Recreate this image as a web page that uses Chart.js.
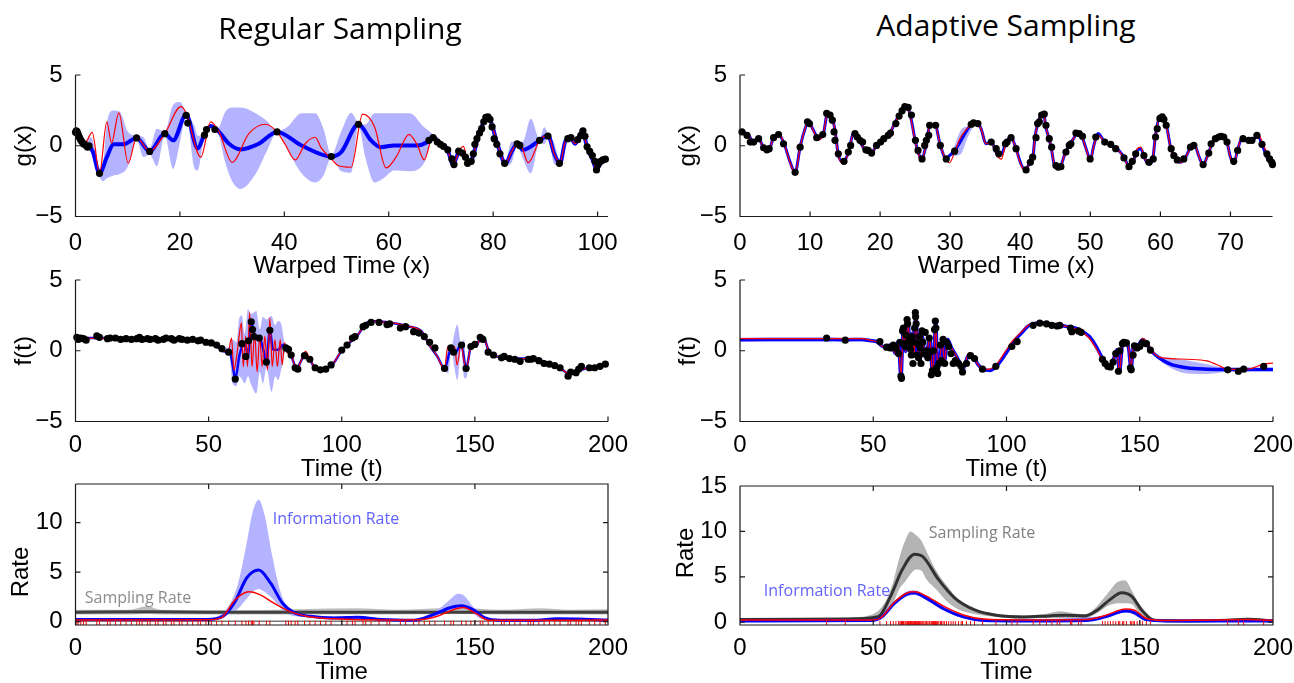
<!DOCTYPE html>
<html><head><meta charset="utf-8">
<script src="https://cdn.jsdelivr.net/npm/chart.js@4.4.1/dist/chart.umd.min.js"></script>
<style>
html,body{margin:0;padding:0;background:#fff;}
body{width:1294px;height:683px;position:relative;overflow:hidden;}
canvas{position:absolute;}
.ttl{position:absolute;font-family:'Open Sans',sans-serif;font-size:30px;color:#000;transform:translate(-50%,-50%);white-space:nowrap;line-height:1;}
.ann{position:absolute;font-family:'Open Sans',sans-serif;font-size:16px;transform:translate(-50%,-50%);white-space:nowrap;line-height:1;}
</style></head>
<body>
<canvas id="cA"></canvas><canvas id="cB"></canvas>
<canvas id="cC"></canvas><canvas id="cD"></canvas>
<canvas id="cE"></canvas><canvas id="cF"></canvas>
<div class="ttl" style="left:340px;top:28px">Regular Sampling</div>
<div class="ttl" style="left:1006px;top:25px">Adaptive Sampling</div>
<div class="ann" style="left:336px;top:518px;color:rgb(96,96,255)">Information Rate</div>
<div class="ann" style="left:138px;top:597px;color:rgb(140,140,140)">Sampling Rate</div>
<div class="ann" style="left:982px;top:532px;color:rgb(128,128,128)">Sampling Rate</div>
<div class="ann" style="left:827px;top:590px;color:rgb(100,100,255)">Information Rate</div>
<script>
// ---------------- DATA ----------------
// Tick labels
const ticksG_reg = [0,20,40,60,80,100];
const ticksG_ada = [0,10,20,30,40,50,60,70];
const ticksT = [0,50,100,150,200];
const ticksGF_y = [-5,0,5];
const ticksRate_reg = [0,5,10];
const ticksRate_ada = [0,5,10,15];

// Panel A: regular sampling, g(x)
const regG_mean = [[0,0.98],[0.6,0.7],[1.6,0.14],[2.5,0.02],[3.3,-0.4],[4.6,-1.95],[6.0,-0.81],[7.3,0.1],[9.2,0.1],[11.7,0.55],[14.2,-0.4],[17.1,0.85],[18.7,0.38],[21.2,2.2],[23.4,-0.2],[24.7,0.8],[25.9,1.4],[27.2,1.1],[29.4,0.14],[31.6,-0.26],[35.1,0.14],[38.6,0.98],[43.3,0.02],[49.0,-0.76],[50.9,-0.45],[54.2,1.52],[56.6,0.38],[58.5,-0.1],[61.0,0.02],[65.5,0.02],[67.4,0.26],[68.5,0.62],[69.9,0.14],[71.2,-0.21],[72.3,-1.3],[73.6,-0.38],[74.5,-0.69],[75.3,-1.24],[76.2,-0.69],[77.2,0.86],[78.1,1.57],[78.9,2.05],[79.7,1.57],[80.7,0.26],[82.4,-1.24],[83.5,-0.45],[84.6,0.14],[85.7,-0.29],[88.9,0.38],[90.5,0.74],[91.7,-0.57],[92.8,-1.24],[93.9,0.38],[94.9,0.5],[95.7,0.14],[97.1,1.05],[98.0,-0.1],[99.0,-0.93],[99.8,-1.64],[100.9,-1.05],[101.6,-0.95]];
const regG_true = [[0,0.98],[1.6,0.05],[3.2,0.95],[4.6,-1.95],[6.0,1.69],[6.9,0.2],[8.3,2.33],[10.1,-1.24],[11.7,0.57],[14.2,-0.38],[17.1,0.86],[20.2,2.76],[21.2,2.29],[24.0,-0.81],[25.9,1.69],[27.5,0.98],[30.0,-1.17],[33.2,0.86],[36.4,1.52],[38.6,0.98],[40.2,0.07],[42.1,-1.0],[44.0,0.14],[45.9,0.6],[47.1,-0.17],[49.0,-0.93],[50.3,-1.4],[52.8,-1.52],[55.0,2.24],[57.3,1.33],[59.5,-1.57],[61.4,-0.81],[63.9,0.81],[65.5,0.02],[66.8,-1.0],[68.5,0.74],[69.9,0.14],[71.2,-0.21],[72.3,-1.3],[73.6,-0.3],[74.3,-0.05],[75.3,-1.24],[76.2,-0.69],[77.2,0.86],[78.1,1.57],[78.9,2.05],[79.7,1.57],[80.7,0.26],[82.4,-1.24],[83.5,-0.45],[84.6,0.14],[85.6,-0.2],[86.7,-1.2],[88.9,0.38],[90.5,0.74],[91.7,-0.57],[92.8,-1.24],[93.9,0.38],[94.9,0.5],[95.7,0.14],[97.1,1.05],[98.0,-0.1],[99.0,-0.93],[99.8,-1.64],[100.9,-1.05],[101.6,-0.95]];
const regG_band = [[0,1.05,0.9],[1.5,0.3,0.0],[3,0.6,-0.5],[4.6,-1.6,-2.2],[5.3,-1.2,-2.5],[6.0,1.6,-2.3],[7.3,2.5,-2.1],[8.5,2.4,-2.0],[10,1.0,-1.5],[11.7,0.7,0.4],[13,0.6,-0.8],[14.2,-0.2,-0.6],[15.6,1.2,-1.45],[17.1,1.0,0.7],[18.7,2.9,-1.64],[20,3.1,0.2],[21.2,2.3,2.1],[22.8,1.4,-1.6],[23.4,0.7,-1.75],[24.7,0.9,0.7],[25.9,1.5,1.3],[27.2,1.2,1.0],[28.7,2.4,-1.2],[30,2.7,-2.5],[31.6,2.7,-3.05],[34.5,2.3,-2.0],[36.5,1.8,-0.5],[38.6,1.05,0.9],[40.5,1.3,-0.2],[43.3,2.3,-1.95],[45.9,2.3,-2.6],[47.5,1.2,-2.1],[49,-0.65,-0.85],[50.9,1.0,-1.8],[52.8,2.33,-1.9],[54.2,1.6,1.4],[55.5,1.5,-0.8],[57.3,2.3,-2.6],[59,2.3,-2.3],[61,2.3,-1.75],[64,2.3,-1.8],[66.8,1.3,-1.2],[68.5,0.8,0.5],[69.9,0.3,0.0],[71.2,-0.05,-0.35],[72.3,-1.15,-1.45],[73.6,-0.25,-0.5],[74.5,-0.55,-0.85],[75.3,-1.1,-1.4],[76.2,-0.55,-0.85],[77.2,1.0,0.7],[78.1,1.7,1.45],[78.9,2.2,1.9],[79.7,1.7,1.45],[80.7,0.4,0.1],[82.4,-1.1,-1.4],[83.5,0.3,-1.2],[84.6,0.3,0.0],[85.7,0.3,-0.9],[87.2,1.9,-1.95],[88.9,0.5,0.25],[89.8,1.3,0.1],[90.5,0.85,0.6],[91.7,0.2,-1.3],[92.8,-1.1,-1.4],[93.9,0.5,0.25],[94.9,0.65,0.35],[95.7,0.3,0.0],[97.1,1.2,0.9],[98.0,0.05,-0.25],[99.0,-0.8,-1.1],[99.8,-1.5,-1.8],[100.9,-0.9,-1.2],[101.6,-0.8,-1.1]];
const regG_pts = [[0,0.95],[0.15,1.05],[0.3,1.0],[0.45,0.85],[0.6,0.7],[0.8,0.55],[1.0,0.4],[1.2,0.3],[1.5,0.15],[1.9,0.05],[2.3,-0.1],[2.6,0.0],[4.6,-1.95],[11.7,0.55],[14.2,-0.4],[17.1,0.85],[21.2,2.15],[21.5,1.6],[24.7,0.75],[25.1,1.15],[26.7,1.15],[38.6,0.98],[49,-0.76],[54.2,1.52],[67.7,0.38],[68.5,0.57],[69.3,0.26],[69.9,0.1],[70.5,-0.05],[71.3,-0.29],[72.1,-0.93],[72.5,-1.33],[73.4,-0.38],[74.1,-0.52],[74.7,-0.81],[75.1,-1.24],[75.8,-1.1],[76.2,-0.57],[76.5,0.1],[76.9,0.5],[77.4,0.9],[77.8,1.21],[78.2,1.69],[78.6,2.0],[79.0,2.05],[79.4,1.86],[79.8,1.33],[80.2,0.5],[80.7,0.1],[81.3,-0.57],[82.2,-1.24],[84.6,0.14],[85.1,0.02],[88.9,0.38],[90.5,0.69],[92.7,-1.24],[94.3,0.5],[94.9,0.57],[96.2,0.43],[96.8,0.74],[97.2,1.05],[97.6,0.67],[98.0,-0.07],[98.5,-0.4],[99.0,-0.69],[99.5,-1.1],[99.8,-1.71],[100.1,-1.33],[100.6,-1.1],[101,-1.0],[101.5,-0.95]];

// Panel B: adaptive sampling, g(x)
const adaG_mean = [[0,0.98],[0.28,0.98],[1.23,0.74],[1.95,0.26],[2.65,0.5],[3.37,-0.14],[4.08,-0.29],[4.8,0.57],[5.5,0.79],[6.3,0.14],[7.16,-1.17],[7.87,-1.88],[8.58,-0.1],[9.15,0.98],[9.77,1.69],[10.48,1.1],[11.2,0.5],[11.9,0.86],[12.5,2.29],[13.1,2.05],[13.6,0.98],[14.0,-0.57],[14.7,-1.17],[15.5,-0.45],[16.2,0.86],[16.9,0.5],[17.8,-0.29],[18.7,-0.52],[19.5,0.02],[20.4,0.38],[21.4,0.9],[22.3,1.81],[23.1,2.48],[23.7,2.81],[24.3,2.17],[25.0,0.38],[25.5,-0.57],[25.9,-0.93],[26.6,0.14],[27.1,1.45],[27.8,1.52],[28.6,0.02],[29.4,-0.93],[29.9,-0.69],[30.6,-0.38],[33.0,1.52],[33.6,1.69],[34.4,1.21],[35.1,0.14],[35.9,0.26],[36.7,-0.57],[37.3,-0.62],[37.97,0.26],[38.7,0.57],[39.4,-0.21],[40.1,-1.29],[40.7,-1.71],[41.4,-1.17],[41.8,-0.81],[42.1,0.62],[42.5,1.57],[43.1,2.24],[43.4,2.17],[43.6,1.45],[44.1,0.5],[44.4,-0.1],[44.9,-1.4],[45.4,-1.52],[45.8,-1.4],[46.4,-0.52],[47.0,0.02],[47.6,0.5],[48.2,0.9],[48.7,0.74],[49.4,-0.21],[50.0,-0.98],[50.5,0.02],[51.1,0.86],[51.9,0.38],[52.9,0.02],[53.8,-0.21],[54.8,-0.81],[55.5,-1.4],[56.2,-0.98],[56.7,-0.33],[57.2,-0.21],[57.8,-0.93],[58.4,-1.29],[58.9,-0.98],[59.3,0.74],[59.9,1.93],[60.4,1.93],[60.9,1.33],[61.5,-0.21],[62.2,-0.93],[62.9,-1.17],[63.6,-0.81],[64.4,-0.05],[64.9,0.02],[65.5,-0.76],[66.1,-1.33],[66.9,-0.45],[67.5,0.26],[68.3,0.62],[68.9,0.74],[69.5,0.26],[70.0,-0.81],[70.5,-1.24],[71.0,-0.33],[71.6,0.5],[72.6,0.33],[73.3,0.43],[73.8,0.79],[74.5,0.1],[75.2,-0.81],[75.9,-1.24]];
const adaG_true = [[0,0.95],[0.28,0.98],[1.23,0.72],[1.95,0.24],[2.65,0.5],[3.37,-0.16],[4.08,-0.3],[4.8,0.6],[5.5,0.88],[6.3,0.14],[7.16,-1.2],[7.87,-1.98],[8.58,-0.1],[9.15,1.0],[9.77,1.72],[10.48,1.05],[11.2,0.4],[11.9,0.86],[12.5,2.3],[13.1,2.05],[13.6,0.98],[14.0,-0.6],[14.7,-1.25],[15.5,-0.45],[16.2,0.9],[16.9,0.5],[17.8,-0.3],[18.7,-0.55],[19.5,0.02],[20.4,0.4],[21.4,0.95],[22.3,1.81],[23.1,2.5],[23.7,2.8],[24.3,2.1],[25.0,0.3],[25.5,-0.65],[25.9,-1.05],[26.6,0.14],[27.1,1.45],[27.8,1.52],[28.6,0.0],[29.4,-0.95],[29.9,-1.2],[30.6,-0.5],[31.3,0.4],[32.2,1.1],[33.0,1.45],[33.6,1.65],[34.4,1.21],[35.1,0.14],[35.9,0.2],[36.7,-0.7],[37.3,-0.95],[37.97,0.2],[38.7,0.57],[39.4,-0.25],[40.1,-1.35],[40.7,-1.8],[41.4,-1.17],[41.8,-0.81],[42.1,0.62],[42.5,1.6],[43.1,2.3],[43.4,2.2],[43.6,1.45],[44.1,0.5],[44.4,-0.1],[44.9,-1.4],[45.4,-1.6],[45.8,-1.4],[46.4,-0.52],[47.0,0.02],[47.6,0.5],[48.2,0.95],[48.7,0.74],[49.4,-0.25],[50.0,-1.05],[50.5,0.0],[51.1,0.75],[51.9,0.38],[52.9,0.0],[53.8,-0.21],[54.8,-0.85],[55.5,-1.45],[56.2,-0.98],[56.7,-0.2],[57.2,-0.1],[57.8,-0.93],[58.4,-1.32],[58.9,-0.98],[59.3,0.74],[59.9,1.95],[60.4,1.93],[60.9,1.3],[61.5,-0.25],[62.2,-1.0],[62.9,-1.2],[63.6,-0.81],[64.4,-0.05],[64.9,0.1],[65.5,-0.76],[66.1,-1.4],[66.9,-0.45],[67.5,0.26],[68.3,0.62],[68.9,0.74],[69.5,0.26],[70.0,-0.85],[70.5,-1.3],[71.0,-0.33],[71.6,0.5],[72.6,0.33],[73.3,0.43],[73.8,0.95],[74.5,0.3],[75.2,-0.5],[75.9,-0.95]];
const adaG_band1 = [[29.9,-0.6,-0.8],[30.6,0.0,-0.7],[31.5,1.1,-0.6],[32.5,1.4,0.6],[33.6,1.75,1.6]];
const adaG_band2 = [[74.5,0.2,0.0],[75.2,-0.6,-1.1],[75.9,-1.0,-1.5]];
const adaG_pts = [[0.28,0.98],[1.0,0.74],[1.47,0.26],[1.94,0.26],[2.66,0.5],[3.37,-0.14],[3.84,-0.29],[4.17,-0.21],[4.79,0.57],[5.5,0.79],[6.21,0.14],[7.87,-1.88],[8.58,-0.1],[9.63,1.69],[9.91,1.57],[10.95,0.57],[11.81,0.79],[12.37,2.29],[12.85,2.17],[13.18,1.81],[13.42,0.98],[13.56,0.38],[14.03,-0.57],[14.84,-1.1],[15.46,-0.45],[15.79,0.02],[16.41,0.86],[16.74,0.62],[17.12,0.38],[17.5,0.26],[17.97,-0.29],[18.3,-0.33],[18.78,-0.52],[19.49,0.02],[20.06,0.26],[20.53,0.5],[21.15,0.74],[21.48,0.9],[22.24,1.57],[22.71,2.1],[23.14,2.48],[23.52,2.76],[24.0,2.71],[24.47,2.17],[25.04,0.38],[25.41,-0.33],[25.98,-0.93],[26.36,0.02],[26.6,0.38],[26.93,0.74],[27.07,1.45],[27.92,1.45],[28.59,0.02],[29.44,-0.93],[30.63,-0.38],[33.0,1.52],[33.33,1.62],[33.95,1.57],[35.85,0.26],[36.56,-0.21],[36.94,-0.57],[37.88,0.14],[38.12,0.26],[38.69,0.57],[39.4,-0.21],[40.83,-1.71],[41.44,-1.17],[41.77,-0.81],[42.25,0.57],[42.48,1.57],[42.72,1.69],[43.05,2.17],[43.43,2.24],[43.67,1.45],[44.14,0.5],[44.48,-0.1],[45.09,-1.4],[45.42,-1.52],[45.8,-1.48],[46.52,-0.45],[46.99,0.02],[47.23,0.14],[47.94,0.9],[48.41,0.86],[48.88,0.67],[49.97,-0.93],[50.78,0.62],[52.06,0.26],[52.91,0.1],[53.62,-0.21],[54.8,-0.86],[55.52,-1.48],[55.99,-1.1],[56.47,-0.57],[57.65,-0.69],[58.36,-1.17],[58.98,-0.93],[59.31,0.62],[59.55,1.21],[59.93,1.93],[60.26,2.05],[60.5,1.86],[60.83,1.45],[61.54,-0.21],[61.92,-0.69],[62.4,-1.0],[63.34,-0.93],[64.29,-0.1],[64.77,0.02],[66.1,-1.33],[66.9,-0.52],[67.24,0.14],[67.85,0.5],[68.33,0.62],[68.66,0.67],[69.04,0.62],[69.51,0.26],[70.46,-1.1],[71.03,-0.33],[71.79,0.5],[72.6,0.38],[73.07,0.38],[73.78,0.74],[74.5,0.1],[75.2,-0.57],[75.58,-0.93],[75.9,-1.17],[76.0,-1.33]];

// Panel C: regular sampling, f(t)
const regF_mean = [[0,0.9],[10,0.9],[20,0.85],[30,0.82],[40,0.79],[47.2,0.74],[52.2,0.43],[56,-0.05],[57.9,-0.05],[59.1,-1.1],[60,-2.0],[61.6,-0.29],[63.5,0.55],[64.8,-0.3],[66,2.05],[66.7,1.5],[67.3,1.1],[69.2,0.9],[70.4,0.19],[71.7,-0.76],[73,1.45],[74.2,0.07],[76.1,0.07],[78,0.43],[79.3,0.31],[80.5,-0.05],[81.8,-0.76],[83,-1.31],[84.9,-0.64],[86.4,-0.29],[88.1,-0.64],[90,-1.24],[92.5,-1.36],[95,-1.17],[96.9,-0.88],[100,0.02],[102.5,0.5],[105.7,1.02],[108.8,1.86],[111.3,2.1],[115,2.05],[119.5,1.95],[125.5,1.7],[129.9,1.38],[132.9,0.4],[135.9,-0.41],[138.6,-1.24],[141.2,0.19],[142.6,-0.12],[144.9,0.43],[146.7,-1.24],[148.6,0.31],[150.8,0.43],[152.3,1.02],[153.5,0.9],[155.3,-0.05],[159.8,-0.45],[165.7,-0.55],[171.7,-0.55],[177.7,-0.88],[182.1,-1.24],[185.1,-1.6],[189.6,-1.36],[194.1,-1.15],[200,-0.9]];
const regF_true = [[0,0.9],[40,0.79],[47.2,0.74],[52.2,0.43],[56,-0.05],[57.4,-0.05],[58.6,0.9],[59.5,-1.36],[60.5,-0.41],[61.3,0.79],[62.3,1.98],[63.0,-1.12],[63.9,1.02],[64.6,-1.12],[65.4,2.69],[66.3,-1.12],[67.3,1.26],[68.2,-1.48],[69.2,1.02],[70.1,-1.12],[71.1,1.02],[72.1,-1.36],[73,2.33],[73.9,-1.12],[74.9,0.79],[75.8,-1.12],[76.9,0.79],[77.6,-1.0],[78.6,0.55],[79.6,-0.17],[80.5,-0.05],[81.8,-0.76],[83,-1.31],[84.9,-0.64],[86.4,-0.05],[88.1,-0.6],[90,-1.24],[92.5,-1.36],[95,-1.17],[96.9,-0.88],[100,0.05],[102.5,0.55],[105.7,1.05],[108.8,1.86],[111.3,2.1],[115,2.05],[119.5,1.95],[125.5,1.7],[129.9,1.38],[132.9,0.4],[135.9,-0.41],[138.6,-1.3],[139.8,0.3],[141.2,-0.2],[142.4,0.3],[143.3,-1.0],[144.9,0.5],[145.8,-0.6],[146.7,-1.3],[148.6,0.3],[150.8,0.43],[152.3,1.02],[153.5,0.9],[155.3,-0.05],[159.8,-0.45],[165.7,-0.55],[171.7,-0.55],[177.7,-0.88],[182.1,-1.24],[185.1,-1.6],[189.6,-1.36],[194.1,-1.15],[200,-0.9]];
const regF_band1 = [[55.5,0.2,0.0],[57.9,0.3,-0.4],[59,0.8,-2.3],[60.4,0.6,-2.5],[61.5,2.3,-1.8],[62.5,2.5,-2.0],[63.5,1.2,-2.31],[64.8,2.93,-1.8],[66.0,2.6,-2.4],[67.9,2.81,-3.02],[69.2,1.5,-1.5],[70.4,2.4,-2.31],[71.7,2.2,-1.2],[73.6,2.45,-2.9],[75.0,1.8,-1.8],[76.1,2.1,-2.07],[77.4,1.8,-1.2],[78.5,0.6,-0.2],[79.5,0.4,0.2]];
const regF_band2 = [[138.6,-1.1,-1.4],[140,0.3,-1.6],[141.2,0.3,0.1],[142.3,1.2,-1.2],[143.4,1.86,-2.07],[144.9,0.55,0.3],[146,0.8,-1.9],[146.7,-1.1,-1.95],[148,0.5,-0.2]];
const regF_pts = [[0.5,0.95],[1,0.8],[2,0.9],[3,0.85],[4,0.75],[8,1.05],[9,0.95],[12,0.85],[13,0.9],[15,0.9],[17,0.8],[19,0.85],[21,0.8],[23,0.85],[24,0.95],[25,0.8],[27,0.85],[28,0.8],[30,0.85],[31,0.75],[33,0.8],[34,0.9],[36,0.85],[37,0.75],[39,0.85],[40,0.8],[42,0.75],[44,0.8],[46,0.7],[47,0.75],[49,0.6],[51,0.55],[53,0.4],[55,0.15],[57.5,-0.1],[60,-2.0],[62.5,0.5],[64,-0.4],[65,0.7],[66,2.05],[66.5,1.5],[67,1.0],[69,0.9],[71.7,-0.8],[73,1.45],[79,0.2],[80,0.1],[81,-0.3],[82.5,-1.2],[83.5,-1.3],[86,-0.35],[88,-0.6],[90,-1.2],[92,-1.35],[94,-1.3],[96,-1.0],[100,0.05],[102,0.4],[104,0.9],[105,1.0],[108,1.7],[109,1.8],[111,2.0],[114,2.0],[117,1.85],[118,1.9],[122,1.6],[124,1.7],[127,1.35],[129,1.25],[131,1.0],[133,0.6],[135,0.2],[138.6,-1.25],[141,0.2],[142,-0.1],[145,0.4],[146.7,-1.25],[148.5,0.3],[150,0.45],[152,0.95],[153,0.8],[155,-0.1],[157,-0.3],[160,-0.5],[161,-0.4],[163,-0.55],[165,-0.6],[167,-0.75],[170,-0.6],[171,-0.6],[172,-0.55],[174,-0.7],[176,-0.9],[178,-0.95],[180,-1.05],[182,-1.2],[185,-1.8],[186,-1.5],[188,-1.55],[189,-1.3],[190,-1.1],[193,-1.2],[195,-1.2],[197,-1.1],[199,-0.95]];

// Panel D: adaptive sampling, f(t)
const adaF_mean = [[0,0.78],[30,0.8],[40,0.78],[45.7,0.8],[48.7,0.72],[51.8,0.6],[53,0.36],[54.4,0.26],[56.9,0.43],[58.2,-0.17],[59.4,0.67],[60.4,-1.83],[61.3,1.62],[62.2,-0.05],[62.9,2.21],[63.8,0.55],[64.7,1.26],[65.4,-0.29],[65.9,2.69],[66.7,0.19],[67.5,-0.76],[68.4,1.02],[69.4,-0.41],[70.4,0.19],[71.3,0.9],[72.2,-1.6],[72.9,0.07],[73.4,2.1],[74.2,-1.36],[75.0,-0.41],[75.9,0.55],[76.7,-0.76],[77.9,0.79],[79.4,0.19],[81.3,-0.41],[82.5,-0.88],[83.4,-1.48],[84.4,-0.95],[85.9,-0.29],[87.9,-0.52],[89.4,-1.0],[91.3,-1.31],[93.8,-1.4],[96.3,-1.07],[99.4,-0.29],[102.5,0.6],[105.7,1.26],[108.1,1.74],[110.0,1.9],[112.5,2.0],[115.6,1.9],[119.4,1.82],[123.4,1.69],[127.2,1.5],[131.0,1.02],[134.0,0.19],[136.3,-0.64],[138.6,-1.12],[140.1,-0.64],[141.4,0.07],[142.4,-1.48],[143.5,0.43],[144.7,0.67],[145.9,0.07],[146.7,-1.24],[147.8,0.43],[149.3,0.43],[151.1,0.79],[152.3,0.6],[154.2,0.02],[156.9,-0.45],[161.5,-0.95],[167.6,-1.2],[175.2,-1.3],[182.8,-1.33],[200,-1.33]];
const adaF_true = [[0,0.85],[40,0.85],[45.7,0.85],[48.7,0.75],[51.8,0.6],[53,0.36],[54.4,0.26],[56.9,0.43],[58.2,-0.17],[59.4,0.67],[60.4,-1.83],[61.3,1.62],[62.2,-0.05],[62.9,2.21],[63.8,0.55],[64.7,1.26],[65.4,-0.29],[65.9,2.69],[66.7,0.19],[67.5,-0.76],[68.4,1.02],[69.4,-0.41],[70.4,0.19],[71.3,0.9],[72.2,-1.6],[72.9,0.07],[73.4,2.1],[74.2,-1.36],[75.0,-0.41],[75.9,0.55],[76.7,-0.76],[77.9,0.79],[79.4,0.19],[81.3,-0.41],[82.5,-0.88],[83.4,-1.48],[84.4,-0.95],[85.9,-0.15],[87.9,-0.52],[89.4,-1.0],[91.3,-1.31],[93.5,-1.3],[96.3,-0.95],[99.4,-0.1],[102.5,0.75],[105.7,1.35],[108.1,1.8],[110.0,1.9],[112.5,2.0],[115.6,1.9],[119.4,1.82],[123.4,1.69],[127.2,1.45],[131.0,0.9],[134.0,0.05],[136.3,-0.75],[138.6,-1.12],[140.1,-0.64],[141.4,0.07],[142.4,-1.48],[143.5,0.43],[144.7,0.67],[145.9,0.07],[146.7,-1.24],[147.8,0.43],[149.3,0.43],[151.1,0.85],[152.3,0.7],[154.2,0.1],[156.9,-0.4],[161.5,-0.55],[167.6,-0.6],[175.2,-0.72],[180.5,-1.12],[182.8,-1.31],[190.4,-1.3],[196.5,-0.95],[200,-0.88]];
const adaF_band1 = [[0,0.92,0.65],[45,0.92,0.66],[50,0.8,0.6],[53,0.45,0.25]];
const adaF_band2 = [[154.2,0.1,-0.05],[157,-0.35,-0.6],[161.5,-0.5,-1.2],[167.6,-0.67,-1.6],[175.2,-0.95,-1.64],[182.8,-1.2,-1.48],[190,-1.22,-1.45],[200,-1.2,-1.45]];
const adaF_pts = [[32.5,0.9],[39.5,0.75],[52.5,0.65],[55,0.25],[56.5,0.2],[57.5,0.4],[58.5,0.2],[59.5,-0.2],[60,0.6],[60.4,-1.8],[60.6,-1.95],[61,1.4],[61.3,1.6],[61.5,0.5],[62,0.3],[62.3,1.1],[62.7,2.2],[62.9,1.9],[63.2,0.6],[63.5,0.3],[63.8,0.9],[64,0.1],[64.3,-0.3],[64.6,1.0],[64.9,-0.9],[65.2,0.6],[65.5,1.6],[65.8,2.7],[65.9,2.4],[66.1,1.9],[66.4,-0.3],[66.7,0.5],[67,-0.5],[67.3,1.0],[67.6,0.2],[67.9,-0.9],[68.3,1.4],[68.6,0.6],[69,-0.2],[69.5,1.3],[70,0.0],[70.5,-0.5],[71,0.9],[71.3,-0.1],[71.8,-1.7],[72.2,-1.4],[72.6,0.0],[73,1.5],[73.3,2.1],[73.5,1.6],[73.8,-1.2],[74.2,-1.6],[74.6,-0.9],[75.2,0.4],[75.6,-0.7],[76.2,0.8],[76.8,-0.9],[77.5,0.6],[78.3,0.3],[79.2,-0.2],[80,-0.9],[80.8,-0.7],[82,-0.9],[83,-1.1],[83.5,-1.5],[85,-0.9],[86.5,-0.35],[88,-0.55],[91,-1.3],[96,-1.1],[102,0.3],[104,0.65],[110,1.8],[112.5,1.95],[115,1.9],[117,1.8],[119,1.75],[120,1.8],[124,1.6],[124.5,1.35],[127,1.4],[128,1.3],[136,-0.6],[137,-0.9],[138,-1.1],[139,-1.15],[140,-0.8],[141,-0.2],[142,-1.45],[142.5,0.0],[143.5,0.5],[144,0.6],[145,0.55],[146.5,-1.2],[146.8,-1.35],[147.5,-0.3],[148,0.35],[149,0.2],[150,0.3],[151,0.55],[152.5,0.5],[154,0.05],[183,-1.35],[187,-1.45],[189,-1.3],[196.5,-1.1]];

// Panel E: regular sampling, rates
const regRate_info = [[0,0.2],[49.4,0.2],[55.4,0.53],[59.9,2.0],[64.3,4.4],[68.8,5.2],[73.3,3.87],[77.7,1.87],[82.2,0.87],[88.2,0.53],[97.1,0.37],[106,0.43],[115,0.2],[127,0.13],[134.4,0.7],[140.4,1.37],[144.9,1.6],[149.3,1.2],[153.8,0.37],[159.8,0.13],[173.2,0.13],[180.6,0.27],[188.1,0.25],[200,0.15]];
const regRate_infoBand = [[0,0.3,0.1],[50,0.3,0.1],[55,0.8,0.3],[58,1.8,0.8],[61,3.8,1.3],[64,7.5,2.2],[66.5,11.0,3.0],[68.8,12.3,3.3],[71,10.8,3.0],[74,6.5,2.3],[77,3.0,1.4],[80,1.3,0.7],[84,0.75,0.5],[97,0.5,0.25],[106,0.55,0.3],[115,0.3,0.1],[127,0.25,0.05],[134,0.9,0.5],[138,1.6,0.9],[141,2.3,1.1],[143.5,2.8,1.3],[146,2.6,1.3],[149,1.6,0.9],[152,0.7,0.3],[156,0.25,0.05],[200,0.25,0.05]];
const regRate_true = [[0,0.15],[50,0.18],[54.7,0.37],[59.9,2.17],[65.1,3.0],[68.8,2.77],[74.7,1.83],[80.7,1.0],[86.7,0.53],[97.1,0.27],[121,0.15],[130,0.2],[135.9,0.53],[141.9,1.2],[145.6,1.43],[150.1,0.87],[155.3,0.13],[200,0.15]];
const regRate_samp = [[0,0.95],[28,1.0],[50,0.95],[100,0.95],[150,0.95],[200,0.95]];
const regRate_sampBand = [[0,1.2,0.7],[20,1.2,0.7],[27,1.55,0.75],[32,1.2,0.7],[60,1.15,0.7],[106,1.35,0.7],[120,1.2,0.7],[144,1.4,0.75],[160,1.2,0.7],[175,1.35,0.7],[185,1.2,0.7],[200,1.25,0.7]];
const regRate_zero = [[0,0.02],[200,0.02]];

// Panel F: adaptive sampling, rates
const adaRate_samp = [[0,0.3],[40,0.35],[51.8,0.6],[56.4,2.8],[60.9,5.8],[65.5,7.5],[68.5,7.26],[74.6,4.66],[80.7,2.63],[88.3,1.33],[96,0.78],[106.6,0.59],[115.8,0.7],[121.9,0.78],[129.5,0.7],[134,1.33],[138.6,2.44],[143.2,3.26],[146.9,2.89],[150.8,1.33],[155.4,0.22],[167.6,0.15],[182.8,0.22],[190.4,0.33],[200,0.15]];
const adaRate_sampBand = [[0,0.4,0.2],[40,0.5,0.2],[50,0.9,0.3],[54,2.0,0.8],[57,4.0,1.8],[60,7.3,3.8],[62,9.0,4.5],[64,10.0,5.3],[66,9.6,5.8],[68,9.0,5.7],[70,7.8,4.7],[74,5.5,3.5],[78,3.9,2.2],[82,2.5,1.4],[88,1.5,0.9],[96,0.95,0.6],[106,0.75,0.45],[115,0.95,0.45],[120,1.2,0.45],[125,1.0,0.45],[130,0.9,0.5],[134,1.8,1.0],[138,3.2,1.8],[142,4.5,2.1],[144.5,4.6,2.1],[147,3.5,2.0],[150,1.9,0.9],[154,0.5,0.1],[160,0.3,0.05],[185,0.35,0.1],[190,0.5,0.2],[200,0.25,0.05]];
const adaRate_info = [[0,0.15],[50,0.2],[53.3,0.59],[57.9,2.07],[62.5,3.1],[65.5,3.25],[70.1,2.63],[76.2,1.52],[83.8,0.59],[91.4,0.2],[106.6,0.15],[130,0.2],[137,0.59],[144.7,1.25],[147.8,1.1],[152.3,0.3],[160,0.15],[200,0.15]];
const adaRate_infoBand = [[0,0.25,0.05],[50,0.3,0.1],[57.9,2.3,1.9],[62.5,3.35,2.85],[65.5,3.5,3.0],[70.1,2.85,2.4],[76.2,1.7,1.35],[83.8,0.7,0.45],[91.4,0.3,0.1],[137,0.7,0.45],[144.7,1.4,1.1],[152.3,0.4,0.2],[160,0.25,0.05],[200,0.25,0.05]];
const adaRate_true = [[0,0.25],[50,0.25],[53.3,0.6],[57.9,2.2],[62.5,3.2],[65.5,3.35],[70.1,2.85],[76.2,1.8],[83.8,0.8],[91.4,0.35],[106.6,0.25],[130,0.3],[137,0.75],[144.7,1.45],[147.8,1.35],[152.3,0.45],[160,0.2],[180,0.25],[190,0.3],[200,0.2]];

// ---------------- RENDERING ----------------
const FONT = 'Liberation Sans';
const FS = 24;
const BLUE = '#0000ff', RED = '#ff0000', BAND = 'rgb(179,179,255)';
const fmt = v => (v < 0 ? '\u2212' + Math.abs(v) : String(v));

const matlabAxes = {
  id: 'matlabAxes',
  afterDatasetsDraw(chart, args, o) {
    const {ctx, chartArea: a, scales: {x, y}} = chart;
    ctx.save();
    ctx.strokeStyle = '#1a1a1a'; ctx.lineWidth = 1.2;
    ctx.beginPath();
    const L = a.left, R = a.right, T = a.top, B = a.bottom, tl = 5;
    ctx.moveTo(L, T); ctx.lineTo(L, B); ctx.lineTo(R, B);
    if (o.box) { ctx.lineTo(R, T); ctx.lineTo(L, T); }
    x.ticks.forEach(t => { const p = x.getPixelForValue(t.value); ctx.moveTo(p, B); ctx.lineTo(p, B - tl); if (o.box) { ctx.moveTo(p, T); ctx.lineTo(p, T + tl); } });
    y.ticks.forEach(t => { const p = y.getPixelForValue(t.value); ctx.moveTo(L, p); ctx.lineTo(L + tl, p); if (o.box) { ctx.moveTo(R, p); ctx.lineTo(R - tl, p); } });
    ctx.stroke();
    ctx.restore();
  }
};
const axTitles = {
  id: 'axTitles',
  afterDraw(chart, args, o) {
    const ctx = chart.ctx;
    ctx.save();
    ctx.fillStyle = '#000';
    ctx.font = FS + 'px "' + FONT + '"';
    ctx.textAlign = 'center'; ctx.textBaseline = 'middle';
    ctx.fillText(o.xlabel, o.xl[0], o.xl[1]);
    ctx.translate(o.yl[0], o.yl[1]); ctx.rotate(-Math.PI / 2);
    ctx.fillText(o.ylabel, 0, 0);
    ctx.restore();
  }
};
const xy = rows => rows.map(r => ({x: r[0], y: r[1]}));

function panel(id, P) {
  const cv = document.getElementById(id);
  const R = P.rect, A = P.area;
  cv.width = R.w; cv.height = R.h;
  cv.style.left = R.x + 'px'; cv.style.top = R.y + 'px';
  cv.style.width = R.w + 'px'; cv.style.height = R.h + 'px';
  const ds = [];
  (P.bands || []).forEach(b => {
    ds.push({data: b.rows.map(r => ({x: r[0], y: r[1]})), borderColor: 'transparent', borderWidth: 0, pointRadius: 0, fill: false, cubicInterpolationMode: 'monotone', order: b.order || 20});
    ds.push({data: b.rows.map(r => ({x: r[0], y: r[2]})), borderColor: 'transparent', borderWidth: 0, pointRadius: 0, fill: '-1', backgroundColor: b.color, cubicInterpolationMode: 'monotone', order: b.order || 20});
  });
  (P.lines || []).forEach(l => ds.push({data: xy(l.rows), borderColor: l.color, borderWidth: l.width, pointRadius: 0, fill: false, cubicInterpolationMode: 'monotone', order: l.order}));
  if (P.points) ds.push({data: xy(P.points), showLine: false, pointRadius: 3.6, pointBackgroundColor: '#000', pointBorderColor: '#000', pointBorderWidth: 0, order: 0, clip: false});
  if (P.rug) ds.push({data: P.rug.map(v => ({x: v, y: P.rugY})), showLine: false, pointStyle: 'line', rotation: 90, pointRadius: 3, pointBorderColor: RED, pointBorderWidth: 1, order: 0});
  new Chart(cv, {
    type: 'line',
    data: {datasets: ds},
    options: {
      responsive: false, maintainAspectRatio: false, animation: false, devicePixelRatio: 1,
      events: [],
      layout: {padding: {left: 0, top: A.t - R.y, right: R.x + R.w - A.r, bottom: 0}},
      plugins: {legend: {display: false}, tooltip: {enabled: false},
        matlabAxes: {box: !!P.box},
        axTitles: {xlabel: P.xlabel, ylabel: P.ylabel, xl: [(A.l + A.r) / 2 - R.x, P.xlY - R.y], yl: [P.ylX - R.x, (P.ylY || (A.t + A.b) / 2) - R.y]}},
      scales: {
        x: {type: 'linear', min: P.xr[0], max: P.xr[1], grid: {display: false}, border: {display: false},
          afterBuildTicks: s => { s.ticks = P.xt.map(v => ({value: v})); },
          afterFit: s => { s.height = R.y + R.h - A.b; },
          ticks: {font: {family: FONT, size: FS}, color: '#000', padding: P.xpad, maxRotation: 0, autoSkip: false, callback: fmt}},
        y: {type: 'linear', min: P.yr[0], max: P.yr[1], grid: {display: false}, border: {display: false},
          afterBuildTicks: s => { s.ticks = P.yt.map(v => ({value: v})); },
          afterFit: s => { s.width = A.l - R.x; },
          ticks: {font: {family: FONT, size: FS}, color: '#000', padding: 5, autoSkip: false, callback: fmt}}
      }
    },
    plugins: [matlabAxes, axTitles]
  });
}

// Panel A
panel('cA', {rect: {x: 0, y: 45, w: 650, h: 240}, area: {l: 75.5, t: 75, r: 608, b: 216.5},
  xr: [0, 102], yr: [-5, 5], xt: ticksG_reg, yt: ticksGF_y, xpad: 4,
  xlabel: 'Warped Time (x)', xlY: 266, ylabel: 'g(x)', ylX: 24,
  bands: [{rows: regG_band, color: BAND}],
  lines: [{rows: regG_mean, color: BLUE, width: 4, order: 2}, {rows: regG_true, color: RED, width: 1.2, order: 1}],
  points: regG_pts});
// Panel B
panel('cB', {rect: {x: 650, y: 45, w: 660, h: 240}, area: {l: 740, t: 75, r: 1272.5, b: 216.5},
  xr: [0, 76], yr: [-5, 5], xt: ticksG_ada, yt: ticksGF_y, xpad: 4,
  xlabel: 'Warped Time (x)', xlY: 266, ylabel: 'g(x)', ylX: 688,
  bands: [{rows: adaG_band1, color: BAND}, {rows: adaG_band2, color: BAND}],
  lines: [{rows: adaG_mean, color: BLUE, width: 3, order: 2}, {rows: adaG_true, color: RED, width: 1.2, order: 1}],
  points: adaG_pts});
// Panel C
panel('cC', {rect: {x: 0, y: 250, w: 650, h: 234}, area: {l: 75.5, t: 280, r: 608, b: 421.5},
  xr: [0, 200], yr: [-5, 5], xt: ticksT, yt: ticksGF_y, xpad: 1,
  xlabel: 'Time (t)', xlY: 469, ylabel: 'f(t)', ylX: 24,
  bands: [{rows: regF_band1, color: BAND}, {rows: regF_band2, color: BAND}],
  lines: [{rows: regF_mean, color: BLUE, width: 2.5, order: 2}, {rows: regF_true, color: RED, width: 1.2, order: 1}],
  points: regF_pts});
// Panel D
panel('cD', {rect: {x: 650, y: 250, w: 660, h: 234}, area: {l: 740, t: 280, r: 1273, b: 421.5},
  xr: [0, 200], yr: [-5, 5], xt: ticksT, yt: ticksGF_y, xpad: 1,
  xlabel: 'Time (t)', xlY: 469, ylabel: 'f(t)', ylX: 688,
  bands: [{rows: adaF_band1, color: BAND}, {rows: adaF_band2, color: BAND}],
  lines: [{rows: adaF_mean, color: BLUE, width: 3.5, order: 2}, {rows: adaF_true, color: RED, width: 1.2, order: 1}],
  points: adaF_pts});
// Panel E
panel('cE', {rect: {x: 0, y: 450, w: 650, h: 240}, area: {l: 75.5, t: 484, r: 608, b: 625},
  xr: [0, 200], yr: [-0.35, 13.9], xt: ticksT, yt: ticksRate_reg, box: true, xpad: 1,
  xlabel: 'Time', xlY: 672, ylabel: 'Rate', ylX: 21, ylY: 572,
  bands: [{rows: regRate_sampBand, color: 'rgb(190,190,190)', order: 22}, {rows: regRate_infoBand, color: BAND, order: 21}],
  lines: [{rows: regRate_zero, color: 'rgb(120,120,120)', width: 1.5, order: 4},
          {rows: regRate_samp, color: 'rgb(64,64,64)', width: 3, order: 3},
          {rows: regRate_info, color: BLUE, width: 3, order: 2},
          {rows: regRate_true, color: RED, width: 1.5, order: 1}],
  rug: regF_pts.map(p => p[0]), rugY: -0.22});
// Panel F
panel('cF', {rect: {x: 650, y: 450, w: 660, h: 240}, area: {l: 740, t: 486, r: 1273, b: 625},
  xr: [0, 200], yr: [-0.3, 15], xt: ticksT, yt: ticksRate_ada, box: true, xpad: 1,
  xlabel: 'Time', xlY: 672, ylabel: 'Rate', ylX: 686, ylY: 553,
  bands: [{rows: adaRate_sampBand, color: 'rgb(180,180,180)', order: 22}, {rows: adaRate_infoBand, color: 'rgb(130,130,255)', order: 21}],
  lines: [{rows: adaRate_samp, color: 'rgb(50,50,50)', width: 3, order: 3},
          {rows: adaRate_info, color: BLUE, width: 3, order: 2},
          {rows: adaRate_true, color: RED, width: 1.5, order: 1}],
  rug: adaF_pts.map(p => p[0]), rugY: -0.2});
</script>
</body></html>
